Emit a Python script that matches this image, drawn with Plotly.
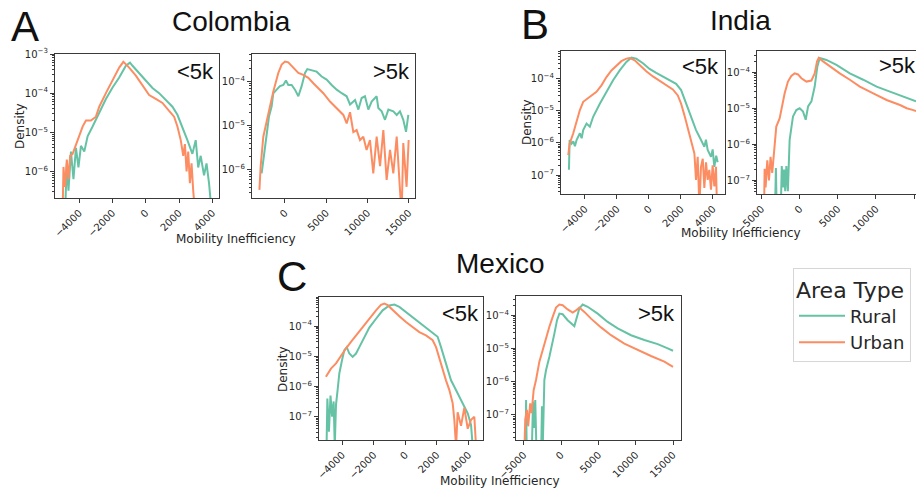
import plotly.graph_objects as go

W, H = 916, 493
RURAL_COLOR = "#66c2a5"
URBAN_COLOR = "#fc8d62"

# ---------------- data ----------------
# Colombia, <5k
col_lt5_rural_x = [-4850, -4750, -4650, -4500, -4350, -4200, -4050, -3900, -3700, -3500, -3200, -2800, -2400, -2000,
                   -1600, -1200, -950, -800, -400, 0, 400, 800, 1200, 1600, 1900, 2200, 2500, 2800, 3000, 3150,
                   3300, 3500, 3650, 3800, 3950]
col_lt5_rural_y = [1e-7, 1.6e-6, 3.2e-7, 3.2e-6, 6.3e-7, 4.0e-6, 1.26e-6, 4.5e-6, 3.2e-6, 7.9e-6, 1.4e-5, 3.2e-5,
                   7.1e-5, 1.4e-4, 2.5e-4, 5.0e-4, 6.0e-4, 5.0e-4, 3.2e-4, 2.0e-4, 1.35e-4, 1.0e-4, 6.8e-5, 4.5e-5,
                   2.8e-5, 1.4e-5, 6.3e-6, 2.8e-6, 6.3e-6, 1.26e-6, 2.5e-6, 7.9e-7, 1.6e-6, 5.0e-7, 1e-7]
col_lt5_urban_x = [-5000, -4950, -4850, -4750, -4650, -4550, -4400, -4200, -4000, -3800, -3600, -3300, -3000, -2800,
                   -2400, -2000, -1600, -1350, -1000, -600, -200, 200, 600, 1000, 1400, 1700, 1900, 2100, 2250,
                   2350, 2450, 2550, 2650, 2750, 2850, 2950]
col_lt5_urban_y = [1e-7, 1.3e-6, 4.0e-7, 2.0e-6, 6.3e-7, 2.5e-6, 2.8e-6, 5.0e-6, 7.9e-6, 1.4e-5, 2.0e-5, 2.0e-5,
                   2.5e-5, 4.5e-5, 1.0e-4, 2.2e-4, 4.5e-4, 6.3e-4, 4.5e-4, 2.8e-4, 1.6e-4, 8.9e-5, 7.1e-5, 5.6e-5,
                   3.5e-5, 2.5e-5, 1.4e-5, 6.3e-6, 2.5e-6, 5.0e-6, 1.0e-6, 3.2e-6, 5.0e-7, 1.6e-6, 3.2e-7, 1e-7]

# Colombia, >5k
col_gt5_rural_x = [-2830, -2630, -2220, -1940, -1620, -1415, -1010, -610, -200, 120, 400, 810, 1210, 1620, 2020,
                   2430, 2710, 3240, 3840, 4450, 5050, 5660, 6270, 6880, 7480, 7890, 8500, 8900, 9300, 9700,
                   10110, 10510, 11120, 11320, 11730, 12130, 12540, 13140, 13550, 13950, 14350, 14680, 14960]
col_gt5_rural_y = [8.3e-7, 1.66e-6, 5.6e-6, 1.6e-5, 2.7e-5, 5.4e-5, 6.5e-5, 7.8e-5, 8.3e-5, 1.05e-4, 8.3e-5,
                   8.3e-5, 6.5e-5, 4.6e-5, 7.8e-5, 1.55e-4, 1.9e-4, 1.8e-4, 1.66e-4, 1.29e-4, 1.1e-4, 8.3e-5,
                   6.5e-5, 5.4e-5, 4.6e-5, 3.0e-5, 3.8e-5, 2.3e-5, 4.2e-5, 4.6e-5, 2.3e-5, 3.5e-5, 4.6e-5,
                   2.5e-5, 2.1e-5, 1.35e-5, 2.3e-5, 2.1e-5, 1.74e-5, 2.1e-5, 1.35e-5, 7.2e-6, 1.74e-5]
col_gt5_urban_x = [-3100, -2950, -2630, -2220, -1820, -1415, -810, -400, 0, 400, 1010, 1620, 2220, 2830, 3440,
                   4040, 4650, 5460, 6270, 7080, 7480, 7890, 8290, 8690, 9100, 9500, 9900, 10310, 10710, 11120,
                   11530, 11930, 12330, 12740, 13140, 13550, 13950, 14150, 14350, 14750, 15000]
col_gt5_urban_y = [3.5e-7, 1.2e-6, 5.6e-6, 1.35e-5, 2.7e-5, 5.9e-5, 1.55e-4, 2.4e-4, 2.8e-4, 2.7e-4, 2.0e-4,
                   1.55e-4, 1.4e-4, 1.2e-4, 9.1e-5, 7.1e-5, 5.4e-5, 3.5e-5, 2.5e-5, 1.74e-5, 1.12e-5, 2.0e-5,
                   7.1e-6, 7.9e-6, 4.7e-6, 5.6e-6, 2.8e-6, 4.7e-6, 8.3e-7, 5.6e-6, 1.2e-6, 7.9e-6, 5.9e-7,
                   2.8e-6, 8.3e-7, 5.6e-6, 3.5e-7, 1e-7, 4.0e-6, 4.1e-7, 4.7e-6]

# India, <5k
ind_lt5_rural_x = [-4995, -4950, -4830, -4725, -4620, -4518, -4311, -4200, -4104, -3896, -3689, -3482, -3067,
                   -2653, -2238, -1824, -1409, -1098, -788, -373, 41, 456, 870, 1285, 1699, 2010, 2321, 2632,
                   2943, 3254, 3461, 3560, 3668, 3876, 3980, 4083, 4200, 4290]
ind_lt5_rural_y = [1.45e-7, 1.23e-6, 9.5e-7, 1.12e-6, 7.9e-7, 1.23e-6, 2.0e-6, 1.4e-6, 2.5e-6, 4.0e-6, 3.2e-6,
                   6.5e-6, 1.66e-5, 3.9e-5, 8.9e-5, 1.8e-4, 3.3e-4, 4.5e-4, 4.2e-4, 3.0e-4, 2.0e-4, 1.5e-4,
                   1.17e-4, 8.9e-5, 6.9e-5, 4.4e-5, 1.66e-5, 5.8e-6, 2.5e-6, 1.23e-6, 7.6e-7, 1.26e-6, 6.0e-7,
                   3.7e-7, 6.3e-7, 1.8e-7, 4.0e-7, 2.5e-7]
ind_lt5_urban_x = [-5036, -4950, -4725, -4518, -4311, -4104, -3689, -3275, -2964, -2653, -2342, -2031, -1720,
                   -1409, -1202, -891, -580, -166, 249, 663, 1078, 1492, 1803, 2010, 2218, 2425, 2632, 2839,
                   2940, 3045, 3150, 3250, 3360, 3460, 3565, 3670, 3770, 3875, 3979, 4083, 4187, 4250]
ind_lt5_urban_y = [4.2e-7, 9.5e-7, 2.0e-6, 5.1e-6, 1.05e-5, 1.9e-5, 2.7e-5, 3.9e-5, 6.2e-5, 1.12e-4, 1.8e-4,
                   2.6e-4, 3.5e-4, 4.2e-4, 4.4e-4, 3.7e-4, 2.6e-4, 1.7e-4, 1.17e-4, 8.5e-5, 6.2e-5, 4.6e-5,
                   3.0e-5, 1.66e-5, 7.2e-6, 2.8e-6, 1.23e-6, 4.7e-7, 7.1e-8, 3.7e-7, 1e-8, 1.8e-7, 3.2e-7,
                   4.0e-8, 2.5e-7, 7.1e-8, 1.45e-7, 3.5e-8, 2.0e-7, 4.4e-8, 1.8e-7, 1e-8]

# India, >5k
ind_gt5_rural_x = [-3250, -3120, -3000, -2500, -2350, -2200, -2050, -1900, -1750, -1550, -1320, -1100, -880,
                   -440, 0, 440, 790, 1100, 1540, 1970, 2320, 2630, 3510, 4820, 6580, 8330, 10090, 11840,
                   13600, 15260]
ind_gt5_rural_y = [1e-8, 2.2e-7, 1e-8, 1e-8, 2.5e-7, 6.3e-8, 2.0e-7, 5.0e-8, 2.5e-7, 5.0e-8, 1.3e-6, 2.8e-6,
                   5.9e-6, 8.9e-6, 1.0e-5, 8.1e-6, 4.8e-6, 1.12e-5, 1.55e-5, 4.0e-5, 1.45e-4, 2.5e-4, 2.2e-4,
                   1.6e-4, 9.3e-5, 6.2e-5, 4.0e-5, 2.9e-5, 2.1e-5, 1.55e-5]
ind_gt5_urban_x = [-4690, -4600, -4470, -4250, -4030, -3820, -3600, -3290, -3070, -2630, -2410, -1970, -1540,
                   -1100, -660, -220, 220, 880, 1540, 1970, 2280, 2500, 3070, 3950, 5260, 6580, 7890, 9650,
                   11400, 13160, 14040, 14910, 15260]
ind_gt5_urban_y = [1e-8, 2.1e-7, 6.3e-8, 3.6e-7, 1.0e-7, 4.5e-7, 1.6e-7, 1.3e-6, 3.1e-6, 5.2e-6, 8.9e-6,
                   2.6e-5, 5.5e-5, 7.9e-5, 9.3e-5, 8.7e-5, 6.8e-5, 5.5e-5, 5.9e-5, 9.3e-5, 2.0e-4, 2.5e-4,
                   2.0e-4, 1.45e-4, 9.3e-5, 6.2e-5, 4.0e-5, 2.6e-5, 1.7e-5, 1.23e-5, 1.0e-5, 8.9e-6, 8.3e-6]

# Mexico, <5k
mex_lt5_rural_x = [-5000, -4950, -4850, -4750, -4650, -4550, -4480, -4400, -4300, -4190, -4020, -3870, -3720,
                   -3555, -3345, -3130, -2920, -2600, -2285, -1860, -1440, -1015, -700, -380, 40, 465, 890,
                   1310, 1735, 2050, 2265, 2475, 2690, 2900, 3110, 3320, 3535, 3745, 3960, 4170, 4280]
mex_lt5_rural_y = [1e-8, 4.0e-7, 3.2e-8, 5.0e-7, 1.0e-7, 3.2e-7, 1e-8, 2.5e-7, 7.6e-7, 2.7e-6, 7.4e-6, 1.6e-5,
                   2.0e-5, 1.23e-5, 9.5e-6, 1.23e-5, 2.0e-5, 4.4e-5, 8.9e-5, 1.74e-4, 3.3e-4, 4.8e-4, 5.1e-4,
                   4.3e-4, 2.9e-4, 2.0e-4, 1.35e-4, 9.3e-5, 6.3e-5, 4.4e-5, 2.0e-5, 8.3e-6, 3.5e-6, 1.6e-6,
                   9.8e-7, 5.9e-7, 3.5e-7, 2.1e-7, 1.3e-7, 5.4e-8, 1e-8]
mex_lt5_urban_x = [-5040, -4880, -4720, -4400, -4085, -3770, -3450, -3130, -2815, -2500, -2180, -1860, -1545,
                   -1333, -1120, -800, -380, 40, 465, 890, 1310, 1735, 1950, 2160, 2370, 2580, 2795, 3005, 3110,
                   3220, 3320, 3535, 3745, 3960, 4170, 4380, 4490]
mex_lt5_urban_y = [2.1e-6, 2.8e-6, 3.9e-6, 5.8e-6, 1.07e-5, 1.8e-5, 3.0e-5, 4.9e-5, 8.1e-5, 1.35e-4, 2.1e-4,
                   3.3e-4, 5.0e-4, 5.5e-4, 4.9e-4, 3.3e-4, 2.1e-4, 1.35e-4, 8.9e-5, 6.3e-5, 4.9e-5, 3.4e-5,
                   2.0e-5, 8.3e-6, 3.5e-6, 1.6e-6, 7.6e-7, 2.8e-7, 7.9e-8, 1e-8, 1.4e-7, 5.0e-8, 2.0e-7,
                   4.0e-8, 7.9e-8, 1.0e-7, 1e-8]

# Mexico, >5k
mex_gt5_rural_x = [-4750, -4680, -4600, -3900, -3750, -3600, -3450, -3300, -2650, -2550, -2450, -2230, -2010,
                   -1560, -1340, -890, -535, -220, 220, 890, 1785, 2140, 2455, 2900, 3570, 4910, 6250, 7590,
                   9380, 11160, 12950, 14290, 15000]
mex_gt5_rural_y = [1e-8, 2.8e-7, 1e-8, 1e-8, 2.5e-7, 4.0e-8, 2.8e-7, 1e-8, 1e-8, 1.8e-7, 1e-8, 1.12e-6, 2.2e-6,
                   5.6e-6, 8.9e-6, 2.8e-5, 7.1e-5, 1.12e-4, 1.07e-4, 7.1e-5, 4.7e-5, 8.9e-5, 1.6e-4, 2.1e-4,
                   1.8e-4, 1.12e-4, 6.3e-5, 4.0e-5, 2.5e-5, 1.8e-5, 1.35e-5, 1.0e-5, 8.5e-6]
mex_gt5_urban_x = [-4900, -4790, -4570, -4400, -4130, -3950, -3660, -3350, -2900, -2455, -2010, -1560, -1115,
                   -670, -220, 220, 890, 1560, 2010, 2455, 3125, 4020, 5360, 6700, 8480, 10270, 12050, 13840,
                   15000]
mex_gt5_urban_y = [1e-8, 7.1e-8, 1.4e-7, 4.5e-8, 2.2e-7, 1.12e-7, 5.6e-7, 1.12e-6, 4.0e-6, 8.9e-6, 2.2e-5,
                   4.5e-5, 8.9e-5, 1.7e-4, 2.1e-4, 2.0e-4, 1.5e-4, 1.2e-4, 1.4e-4, 1.7e-4, 1.26e-4, 7.9e-5,
                   4.3e-5, 2.5e-5, 1.4e-5, 8.9e-6, 5.9e-6, 4.0e-6, 2.8e-6]

# tick labels
xticks_lt5 = [-4000, -2000, 0, 2000, 4000]
xticktext_lt5 = ["\u22124000", "\u22122000", "0", "2000", "4000"]
xticks_gt5 = [-5000, 0, 5000, 10000, 15000]
xticktext_gt5 = ["\u22125000", "0", "5000", "10000", "15000"]
yticks = [1e-3, 1e-4, 1e-5, 1e-6, 1e-7]
yticktext = ["10<sup>\u22123</sup>", "10<sup>\u22124</sup>", "10<sup>\u22125</sup>",
             "10<sup>\u22126</sup>", "10<sup>\u22127</sup>"]

countries = ["Colombia", "India", "Mexico"]
letters = ["A", "B", "C"]
series_names = ["Rural", "Urban"]

# ---------------- layout helpers ----------------
def fx(p):
    return p / W

def fy(p):
    return 1 - p / H

TICK_FONT = dict(family="DejaVu Sans", size=10, color="#262626")
LABEL_FONT = dict(family="DejaVu Sans", size=12, color="#262626")
FRAME = "#3a3a3a"
minor_vals = [k * 10.0 ** e for e in range(-9, -2) for k in range(2, 10)]

panels = [
    (col_lt5_rural_x, col_lt5_rural_y, col_lt5_urban_x, col_lt5_urban_y, (55, 219), (54, 198),
     [-5460, 4400], [-6.68, -3.0], xticks_lt5, xticktext_lt5, "<5k", 216, 71),
    (col_gt5_rural_x, col_gt5_rural_y, col_gt5_urban_x, col_gt5_urban_y, (252, 415), (54, 198),
     [-4000, 15770], [-6.64, -3.38], xticks_gt5[1:], xticktext_gt5[1:], ">5k", 412, 71),
    (ind_lt5_rural_x, ind_lt5_rural_y, ind_lt5_urban_x, ind_lt5_urban_y, (561, 725), (51, 194),
     [-5490, 4750], [-7.59, -3.14], xticks_lt5, xticktext_lt5, "<5k", 721, 66),
    (ind_gt5_rural_x, ind_gt5_rural_y, ind_gt5_urban_x, ind_gt5_urban_y, (757, 916), (51, 194),
     [-5600, 15260], [-7.38, -3.41], xticks_gt5, xticktext_gt5, ">5k", 918, 65),
    (mex_lt5_rural_x, mex_lt5_rural_y, mex_lt5_urban_x, mex_lt5_urban_y, (319, 483), (297, 440),
     [-5480, 4930], [-7.77, -3.04], xticks_lt5, xticktext_lt5, "<5k", 481, 313),
    (mex_gt5_rural_x, mex_gt5_rural_y, mex_gt5_urban_x, mex_gt5_urban_y, (516, 681), (296, 440),
     [-6030, 16070], [-7.76, -3.42], xticks_gt5, xticktext_gt5, ">5k", 677, 313),
]

fig = go.Figure()
layout = dict(
    width=W, height=H,
    margin=dict(l=0, r=0, t=0, b=0, autoexpand=False),
    paper_bgcolor="white", plot_bgcolor="white",
    font=dict(family="DejaVu Sans", color="#262626"),
    annotations=[], showlegend=True,
)

for i, (rx, ry, ux, uy, xs, ys, xr, yr, xt, xtt, tag, tx, ty) in enumerate(panels):
    n = i + 1
    xa = "x" if n == 1 else f"x{n}"
    ya = "y" if n == 1 else f"y{n}"
    fig.add_trace(go.Scatter(x=rx, y=ry, mode="lines", name=series_names[0], legendgroup="r",
                             showlegend=(i == 0), line=dict(color=RURAL_COLOR, width=2),
                             xaxis=xa, yaxis=ya))
    fig.add_trace(go.Scatter(x=ux, y=uy, mode="lines", name=series_names[1], legendgroup="u",
                             showlegend=(i == 0), line=dict(color=URBAN_COLOR, width=2),
                             xaxis=xa, yaxis=ya))
    xkey = "xaxis" if n == 1 else f"xaxis{n}"
    ykey = "yaxis" if n == 1 else f"yaxis{n}"
    layout[xkey] = dict(
        domain=[fx(xs[0]), min(1.0, fx(xs[1]))], anchor=ya, range=xr, automargin=False,
        tickmode="array", tickvals=xt, ticktext=xtt, tickangle=-45,
        ticks="outside", ticklen=4, tickwidth=1, tickcolor=FRAME,
        showline=True, linecolor=FRAME, linewidth=1.2, mirror=True,
        showgrid=False, zeroline=False, tickfont=TICK_FONT,
    )
    layout[ykey] = dict(
        domain=[fy(ys[1]), fy(ys[0])], anchor=xa, type="log", range=yr, automargin=False,
        tickmode="array", tickvals=yticks, ticktext=yticktext,
        ticks="outside", ticklen=4, tickwidth=1, tickcolor=FRAME,
        minor=dict(tickmode="array", tickvals=minor_vals, ticks="outside", ticklen=2,
                   tickwidth=0.8, tickcolor=FRAME, showgrid=False),
        showline=True, linecolor=FRAME, linewidth=1.2, mirror=True,
        showgrid=False, zeroline=False, tickfont=TICK_FONT,
    )
    layout["annotations"].append(dict(
        text=tag, x=fx(tx), y=fy(ty), xref="paper", yref="paper", xanchor="right", yanchor="middle",
        showarrow=False, font=dict(family="Liberation Sans", size=22, color="#111111")))

# panel letters & country titles
for letter, (lx, ly) in zip(letters, [(25, 26), (535, 24), (292, 276)]):
    layout["annotations"].append(dict(
        text=letter, x=fx(lx), y=fy(ly), xref="paper", yref="paper", xanchor="center", yanchor="middle",
        showarrow=False, font=dict(family="Liberation Sans", size=42, color="#111111")))
for name, (cx, cy) in zip(countries, [(231, 22), (740, 20), (500, 263)]):
    layout["annotations"].append(dict(
        text=name, x=fx(cx), y=fy(cy), xref="paper", yref="paper", xanchor="center", yanchor="middle",
        showarrow=False, font=dict(family="Liberation Sans", size=28, color="#111111")))

# axis titles
for (mx, my) in [(236, 239), (741, 233), (500, 481)]:
    layout["annotations"].append(dict(
        text="Mobility Inefficiency", x=fx(mx), y=fy(my), xref="paper", yref="paper",
        xanchor="center", yanchor="middle", showarrow=False, font=LABEL_FONT))
for (dx, dy) in [(20, 126), (527, 122), (283, 369)]:
    layout["annotations"].append(dict(
        text="Density", x=fx(dx), y=fy(dy), xref="paper", yref="paper", textangle=-90,
        xanchor="center", yanchor="middle", showarrow=False, font=LABEL_FONT))

layout["legend"] = dict(
    x=fx(793), y=fy(268), xanchor="left", yanchor="top",
    bgcolor="white", bordercolor="#d6d6d6", borderwidth=1,
    title=dict(text="Area Type", font=dict(family="DejaVu Sans", size=22, color="#262626")),
    font=dict(family="DejaVu Sans", size=18, color="#262626"),
    tracegroupgap=0, itemwidth=46,
)

fig.update_layout(**layout)
fig.write_html("out.html", config={"displayModeBar": False},
               post_script="document.body.style.margin='0px';document.body.style.overflow='hidden';")
